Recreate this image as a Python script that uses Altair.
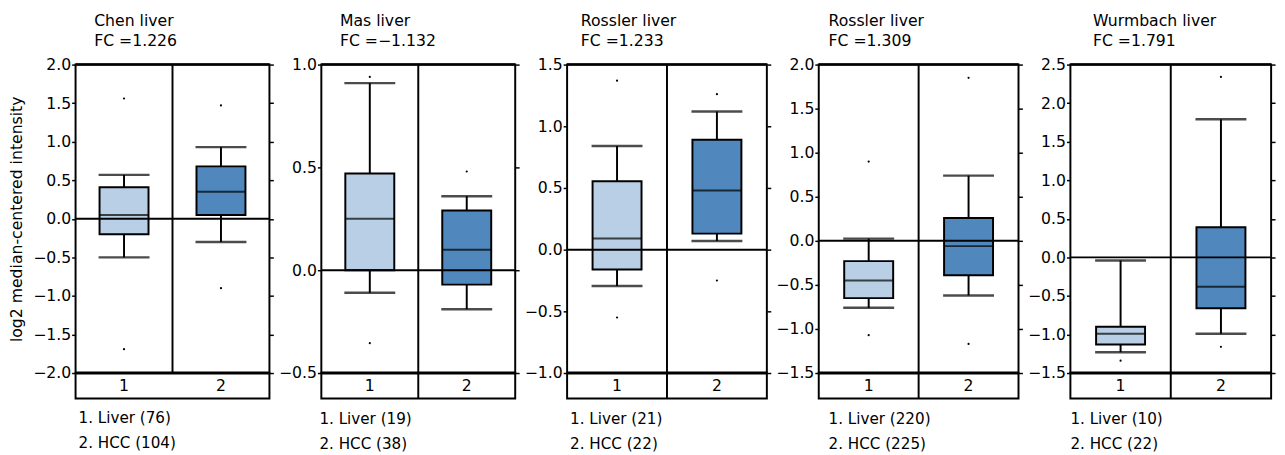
import altair as alt
import pandas as pd

FONT = "DejaVu Sans"

titles = ["Chen liver", "Mas liver", "Rossler liver", "Rossler liver", "Wurmbach liver"]
fc_labels = ["FC =1.226", "FC =\u22121.132", "FC =1.233", "FC =1.309", "FC =1.791"]
groups = ["1", "2"]
legend1 = ["1. Liver (76)", "1. Liver (19)", "1. Liver (21)", "1. Liver (220)", "1. Liver (10)"]
legend2 = ["2. HCC (104)", "2. HCC (38)", "2. HCC (22)", "2. HCC (225)", "2. HCC (22)"]
y_min = [-2.0, -0.5, -1.0, -1.5, -1.5]
y_max = [2.0, 1.0, 1.5, 2.0, 2.5]

lower_whisker = [[-0.50, -0.30], [-0.11, -0.19], [-0.295, 0.07], [-0.76, -0.62], [-1.23, -0.99]]
q1 = [[-0.20, 0.05], [0.0, -0.07], [-0.16, 0.13], [-0.65, -0.39], [-1.13, -0.66]]
median = [[0.05, 0.35], [0.25, 0.10], [0.09, 0.48], [-0.45, -0.06], [-0.99, -0.38]]
q3 = [[0.41, 0.68], [0.47, 0.29], [0.555, 0.89], [-0.23, 0.26], [-0.90, 0.39]]
upper_whisker = [[0.57, 0.93], [0.91, 0.36], [0.84, 1.12], [0.025, 0.74], [-0.04, 1.79]]
outliers = [
    [[1.56, -1.69], [1.47, -0.90]],
    [[0.94, -0.355], [0.48]],
    [[1.37, -0.55], [1.26, -0.25]],
    [[0.90, -1.07], [1.85, -1.17]],
    [[-1.34], [2.34, -1.16]],
]

colors = ["#b9cfe5", "#5087bd"]
widths = [198, 198, 204, 204, 205]
title_dx = [19, 19, 14, 10, 23]
legend_dx = [3, -2, 3, 10, 0]
H = 315
STRIP_H = 26


def make_panel(i):
    w = widths[i]
    ticks = []
    v = y_min[i]
    while v <= y_max[i] + 1e-9:
        ticks.append(round(v, 1))
        v += 0.5
    box_df = pd.DataFrame({
        "group": groups,
        "lw": lower_whisker[i],
        "q1": q1[i],
        "med": median[i],
        "q3": q3[i],
        "uw": upper_whisker[i],
    })
    out_rows = []
    for g, vals in zip(groups, outliers[i]):
        for val in vals:
            out_rows.append({"group": g, "value": val})
    out_df = pd.DataFrame(out_rows)

    yscale = alt.Scale(domain=[y_min[i], y_max[i]], nice=False, zero=False)
    xenc = alt.X("group:N", scale=alt.Scale(domain=groups, paddingInner=0, paddingOuter=0), axis=None)

    left_axis = alt.Axis(
        values=ticks, format=".1f", tickSize=4, tickWidth=1.5, tickColor="black",
        labelFontSize=16, labelColor="black", labelPadding=1, domain=False, grid=False,
        title="log2 median-centered intensity" if i == 0 else None,
        titleFontSize=16, titleFontWeight="normal", titleColor="black", titlePadding=8,
        orient="left",
    )
    right_axis = alt.Axis(
        values=ticks, tickSize=4, tickWidth=1.5, tickColor="black", labels=False,
        domain=False, grid=False, title=None, orient="right",
    )

    base = alt.Chart(box_df)

    whisk = base.mark_rule(color="black", strokeWidth=2).encode(
        x=xenc, y=alt.Y("lw:Q", scale=yscale, axis=None), y2="uw:Q")
    cap_lo = base.mark_tick(color="black", size=52, thickness=2.5).encode(
        x=xenc, y=alt.Y("lw:Q", scale=yscale, axis=None))
    cap_hi = base.mark_tick(color="black", size=52, thickness=2.5).encode(
        x=xenc, y=alt.Y("uw:Q", scale=yscale, axis=None))
    box = base.mark_bar(size=50, stroke="black", strokeWidth=2).encode(
        x=xenc,
        y=alt.Y("q1:Q", scale=yscale, axis=left_axis),
        y2="q3:Q",
        color=alt.Color("group:N", scale=alt.Scale(domain=groups, range=colors), legend=None),
    )
    med = base.mark_tick(color="black", size=50, thickness=2).encode(
        x=xenc, y=alt.Y("med:Q", scale=yscale, axis=None))
    pts = alt.Chart(out_df).mark_circle(color="black", size=5, opacity=1).encode(
        x=xenc, y=alt.Y("value:Q", scale=yscale, axis=None))

    zero = alt.Chart(pd.DataFrame({"v": [0.0]})).mark_rule(color="black", strokeWidth=2).encode(
        y=alt.Y("v:Q", scale=yscale, axis=right_axis))
    top = alt.Chart(pd.DataFrame({"v": [y_max[i]]})).mark_rule(color="black", strokeWidth=2.5).encode(
        y=alt.Y("v:Q", scale=yscale, axis=None))
    bottom = alt.Chart(pd.DataFrame({"v": [y_min[i]]})).mark_rule(color="black", strokeWidth=3).encode(
        y=alt.Y("v:Q", scale=yscale, axis=None))
    divider = alt.Chart(pd.DataFrame({"v": [0]})).mark_rule(color="black", strokeWidth=2).encode(
        x=alt.value(w / 2), y=alt.value(0), y2=alt.value(H))

    main = alt.layer(whisk, cap_lo, cap_hi, box, med, pts, zero, top, bottom, divider).resolve_axis(
        y="independent").properties(
        width=w, height=H,
        title=alt.TitleParams(
            text=[titles[i], fc_labels[i]], anchor="start", frame="group", dx=title_dx[i],
            fontSize=16, fontWeight="normal", lineHeight=20, offset=8, color="black", font=FONT,
        ),
    )

    strip_df = pd.DataFrame({"group": groups})
    strip_text = alt.Chart(strip_df).mark_text(fontSize=16, color="black", font=FONT).encode(
        x=xenc, text="group:N")
    strip_layers = [strip_text]
    if i > 0:
        strip_layers.append(
            alt.Chart(pd.DataFrame({"v": [0]})).mark_rule(color="black", strokeWidth=2).encode(
                x=alt.value(w / 2), y=alt.value(0), y2=alt.value(STRIP_H)))
    strip = alt.layer(*strip_layers).properties(
        width=w, height=STRIP_H,
        title=alt.TitleParams(
            text=[legend1[i], legend2[i]], orient="bottom", anchor="start", frame="group",
            dx=legend_dx[i], fontSize=15.5, fontWeight="normal", lineHeight=26, offset=13,
            color="black", font=FONT,
        ),
    )
    return alt.vconcat(main, strip, spacing=0, bounds="flush")


chart = alt.hconcat(*[make_panel(i) for i in range(5)], spacing=2).properties(
    padding={"left": 0, "top": 0, "right": 0, "bottom": 0}
).configure(font=FONT).configure_view(stroke="black", strokeWidth=2).configure_axis(
    labelFont=FONT, titleFont=FONT)

chart.save("out.html", embed_options={"renderer": "svg", "actions": False})
